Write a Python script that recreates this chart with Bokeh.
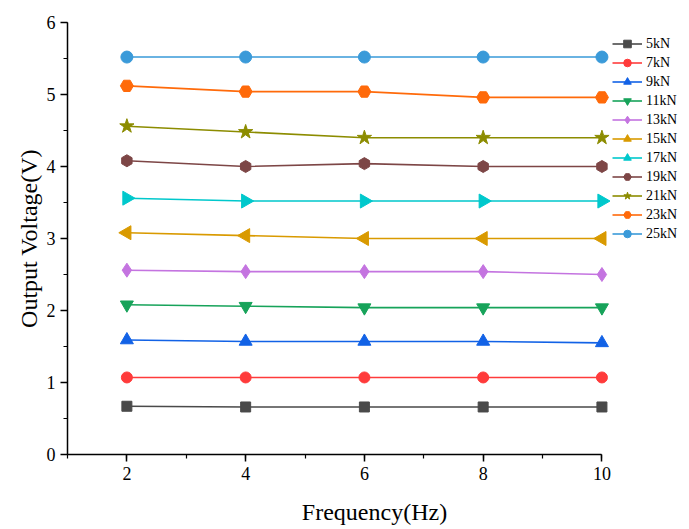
import math
from bokeh.plotting import figure
from bokeh.models import SingleIntervalTicker, Legend, LegendItem, Range1d
from bokeh.embed import file_html
from bokeh.resources import INLINE

freq = [2, 4, 6, 8, 10]
labels = ["5kN", "7kN", "9kN", "11kN", "13kN", "15kN", "17kN", "19kN", "21kN", "23kN", "25kN"]
v5 = [0.67, 0.66, 0.66, 0.66, 0.66]
v7 = [1.07, 1.07, 1.07, 1.07, 1.07]
v9 = [1.59, 1.57, 1.57, 1.57, 1.55]
v11 = [2.08, 2.06, 2.04, 2.04, 2.04]
v13 = [2.56, 2.54, 2.54, 2.54, 2.50]
v15 = [3.08, 3.04, 3.00, 3.00, 3.00]
v17 = [3.56, 3.52, 3.52, 3.52, 3.52]
v19 = [4.08, 4.00, 4.04, 4.00, 4.00]
v21 = [4.56, 4.48, 4.40, 4.40, 4.40]
v23 = [5.12, 5.04, 5.04, 4.96, 4.96]
v25 = [5.52, 5.52, 5.52, 5.52, 5.52]
series = [v5, v7, v9, v11, v13, v15, v17, v19, v21, v23, v25]

colors = ["#4a4a4a", "#ff3b3b", "#1262e6", "#17a35a", "#c474e0", "#d99a00",
          "#00c8cc", "#7d4646", "#8c8c00", "#ff6a0a", "#3a9ad9"]
markers = ["square", "circle", "triangle", "inverted_triangle", "diamond", "triangle",
           "triangle", "hex", "star", "hex", "circle"]
angles = [0, 0, 0, 0, 0, math.pi / 2, -math.pi / 2, math.pi / 2, 0, 0, 0]
sizes = [10, 11, 13, 13, 14, 14, 14, 12, 15, 13, 12]

FONT = "Liberation Serif"

p = figure(frame_width=614, frame_height=432, output_backend="svg", toolbar_location=None,
           x_range=Range1d(1, 11.34), y_range=Range1d(0, 6),
           min_border_left=67, min_border_top=22, min_border_bottom=67, min_border_right=0)
p.outline_line_color = None
p.xgrid.visible = False
p.ygrid.visible = False
p.background_fill_color = "white"
p.border_fill_color = "white"

p.xaxis.ticker = SingleIntervalTicker(interval=2, num_minor_ticks=2)
p.yaxis.ticker = SingleIntervalTicker(interval=1, num_minor_ticks=2)
p.xaxis.bounds = (1, 10)
for ax in (p.xaxis[0], p.yaxis[0]):
    ax.axis_line_width = 1.5
    ax.axis_line_color = "black"
    ax.major_tick_line_color = "black"
    ax.minor_tick_line_color = "black"
    ax.major_tick_line_width = 1.5
    ax.minor_tick_line_width = 1.2
    ax.major_tick_in = 0
    ax.major_tick_out = 7
    ax.minor_tick_in = 0
    ax.minor_tick_out = 4
    ax.major_label_text_font = FONT
    ax.major_label_text_font_size = "18px"
    ax.major_label_text_color = "black"
    ax.axis_label_text_font = FONT
    ax.axis_label_text_font_size = "24px"
    ax.axis_label_text_font_style = "normal"
    ax.axis_label_text_color = "black"
p.xaxis.axis_label = "Frequency(Hz)"
p.yaxis.axis_label = "Output Voltage(V)"
p.xaxis.major_label_standoff = 5
p.xaxis.axis_label_standoff = 16
p.yaxis.major_label_standoff = 5
p.yaxis.axis_label_standoff = 2

items = []
for lab, vals, c, m, a, s in zip(labels, series, colors, markers, angles, sizes):
    ln = p.line(freq, vals, line_color=c, line_width=1.6)
    sc = p.scatter(freq, vals, marker=m, angle=a, size=s, fill_color=c, line_color=c)
    items.append(LegendItem(label=lab, renderers=[ln, sc]))

legend = Legend(items=items, location=(545, 211), orientation="vertical")
legend.background_fill_alpha = 0
legend.border_line_color = None
legend.padding = 0
legend.margin = 0
legend.spacing = 0
legend.glyph_width = 30
legend.glyph_height = 19
legend.label_height = 19
legend.label_standoff = 4
legend.label_text_font = FONT
legend.label_text_font_size = "14px"
legend.label_text_color = "black"
p.add_layout(legend, "center")

open("out.html", "w").write(file_html(p, INLINE))
